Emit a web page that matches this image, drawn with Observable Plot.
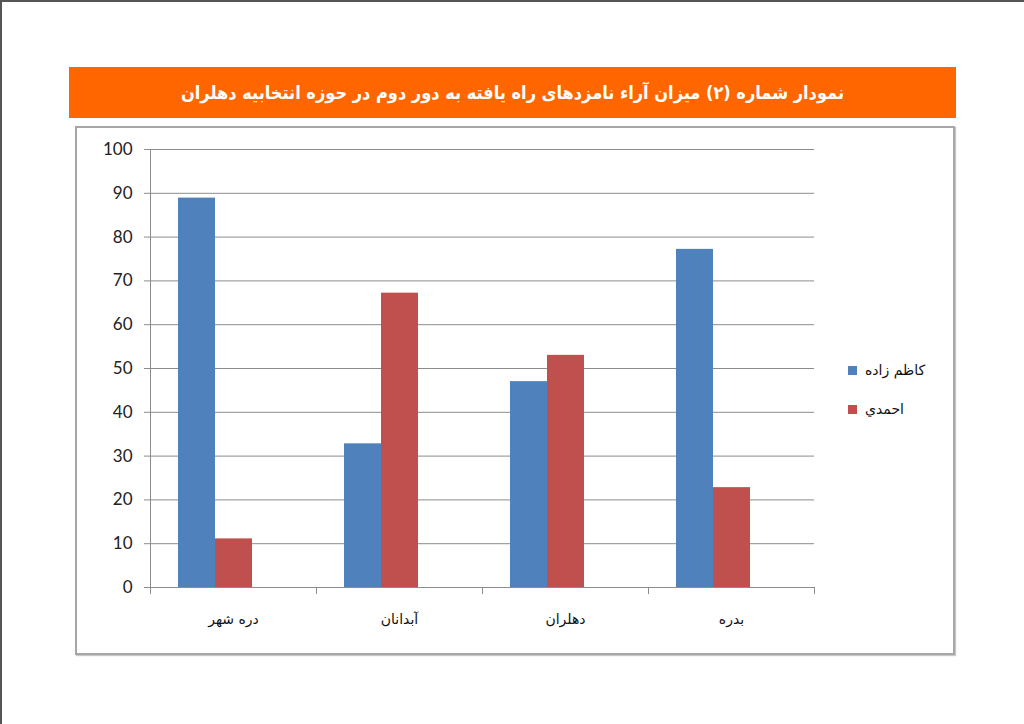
<!DOCTYPE html>
<html>
<head>
<meta charset="utf-8">
<script src="https://cdn.jsdelivr.net/npm/d3@7"></script>
<script src="https://cdn.jsdelivr.net/npm/@observablehq/plot@0.6"></script>
<style>
  html, body { margin: 0; padding: 0; background: #fff; }
  #page { position: relative; width: 1024px; height: 724px; box-sizing: border-box;
          border-left: 2px solid #555; border-top: 2px solid #555; background: #fff; overflow: hidden; }
  #title { position: absolute; left: 67px; top: 65px; width: 887px; height: 51px; background: #ff6600;
           color: #fff; font-family: "DejaVu Sans Condensed", "DejaVu Sans", sans-serif; font-weight: bold;
           font-size: 18px; line-height: 51px; text-align: center; direction: rtl; }
  #box { position: absolute; left: 73px; top: 124px; width: 876px; height: 525px;
         border: 2px solid #a6a6a6; box-shadow: 1px 1px 1px #c8c8c8; background: #fff; }
  #chart { position: absolute; left: 78px; top: 128px; }
  #legend { position: absolute; left: 846px; top: 358px; font-family: "DejaVu Sans", sans-serif; font-size: 14px; color: #111; }
  .item { display: flex; align-items: center; height: 20px; margin-bottom: 19px; }
  .sw { width: 9px; height: 9px; margin-right: 8px; }
</style>
</head>
<body>
<div id="page">
  <div id="title"></div>
  <div id="box"></div>
  <div id="chart"></div>
  <div id="legend"></div>
</div>
<script>
const titleText = "نمودار شماره (۲) میزان آراء نامزدهای راه یافته به دور دوم در حوزه انتخابیه دهلران";
const categories = ["دره شهر", "آبدانان", "دهلران", "بدره"];
const series = ["کاظم زاده", "احمدي"];
const kazemzadeh = [88.9, 32.8, 47.0, 77.2];
const ahmadi = [11.1, 67.2, 53.0, 22.8];
const colors = ["#4f81bd", "#c0504d"];
const yTicks = [0, 10, 20, 30, 40, 50, 60, 70, 80, 90, 100];

const values = [kazemzadeh, ahmadi];
const rows = [];
categories.forEach((c, i) => series.forEach((s, j) => rows.push({region: c, candidate: s, value: values[j][i]})));

document.getElementById("title").textContent = titleText;

const legend = document.getElementById("legend");
series.forEach((s, j) => {
  const it = document.createElement("div");
  it.className = "item";
  it.innerHTML = `<div class="sw" style="background:${colors[j]}"></div><span>${s}</span>`;
  legend.appendChild(it);
});

const W = 750, H = 502, mt = 19, mb = 45, ml = 69, mr = 15;
const innerH = H - mt - mb;

const chart = Plot.plot({
  width: W, height: H,
  marginTop: mt, marginBottom: mb, marginLeft: ml, marginRight: mr,
  style: {fontFamily: "Lato, sans-serif", background: "transparent", overflow: "visible"},
  fx: {domain: categories, padding: 0, label: null},
  x: {domain: [...series, " "], paddingInner: 0, paddingOuter: 0.72, axis: null},
  y: {domain: [0, 100], ticks: yTicks, label: null},
  color: {domain: series, range: colors},
  marks: [
    Plot.gridY(yTicks.slice(1), {stroke: "#8c8c8c", strokeOpacity: 1, strokeWidth: 1}),
    Plot.axisY(yTicks, {tickSize: 6, tickPadding: 12, stroke: "#8c8c8c", fontSize: 17, fill: "#222", label: null}),
    Plot.axisFx({anchor: "bottom", tickSize: 0, tickPadding: 27, fontSize: 14, fill: "#111",
                 fontFamily: "DejaVu Sans, sans-serif", label: null}),
    Plot.barY(rows, {fx: "region", x: "candidate", y: "value", fill: "candidate"}),
    Plot.ruleY([0], {stroke: "#8c8c8c"}),
    Plot.frame({anchor: "left", stroke: "#8c8c8c", insetTop: innerH, insetBottom: -6}),
    Plot.frame({anchor: "right", stroke: "#8c8c8c", insetTop: innerH, insetBottom: -6}),
    Plot.frame({anchor: "left", stroke: "#8c8c8c", insetBottom: -6, fx: [categories[0]]})
  ]
});
document.getElementById("chart").appendChild(chart);
</script>
</body>
</html>
